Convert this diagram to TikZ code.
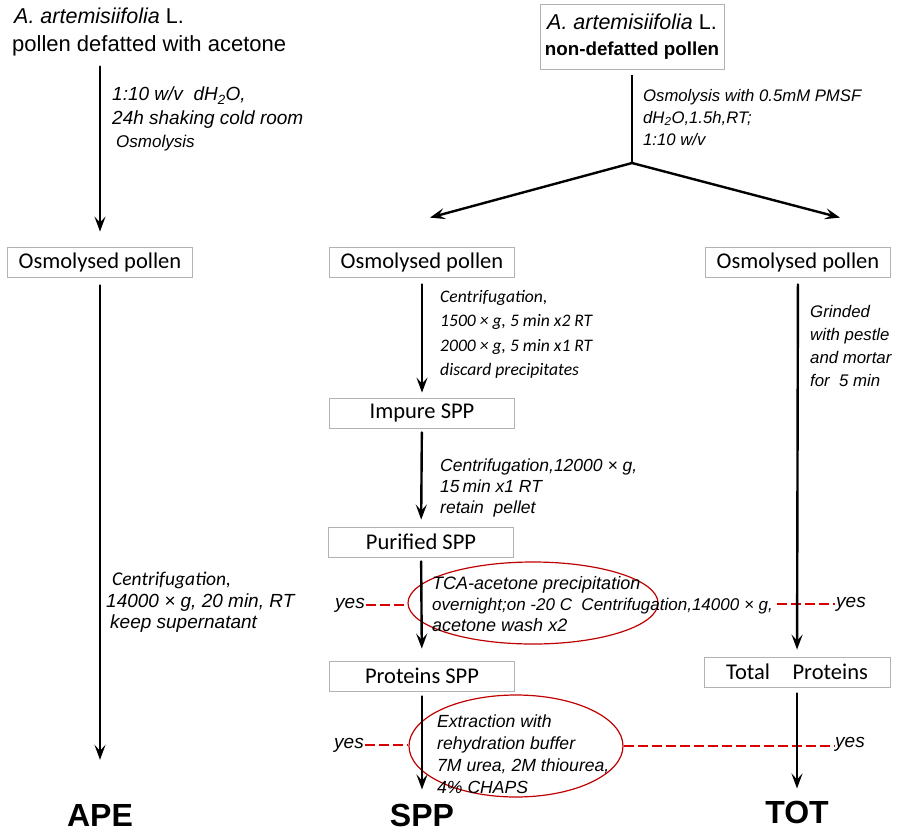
\documentclass[tikz,border=0pt]{standalone}
\usepackage{fontspec}
\setmainfont{Liberation Sans}
\newfontfamily\calib{Carlito}
\usetikzlibrary{arrows.meta,shapes.geometric}

\begin{document}
\begin{tikzpicture}[x=1pt, y=-1pt,
  box/.style={draw=gray!60, line width=0.8pt, minimum width=185pt, minimum height=30pt, inner sep=2pt, font=\calib\fontsize{22.5}{24}\selectfont},
  note/.style={anchor=north west, align=left, inner sep=0pt, font=\itshape\fontsize{17}{23}\selectfont},
  cnote/.style={note, font=\calib\itshape\fontsize{17.6}{24.5}\selectfont},
  flow/.style={line width=2.4pt, line cap=round, -{Stealth[length=15pt, width=11pt, inset=6pt]}},
  ring/.style={draw=red!75!black, ellipse, line width=1.2pt, inner sep=0pt},
  yesline/.style={draw=red!85!black, line width=2pt, dash pattern=on 10pt off 4pt},
  yes/.style={font=\itshape\fontsize{19}{20}\selectfont, inner sep=1pt},
  final/.style={font=\bfseries\fontsize{32}{34}\selectfont, inner sep=0pt}]

\useasboundingbox (0,0) rectangle (897,831);

% starting material
\node[anchor=north west, align=left, inner sep=0pt, font=\fontsize{22}{28}\selectfont] (src1) at (12,8) {\hspace*{2pt}{\fontsize{21.5}{26}\selectfont\textit{A. artemisiifolia} L.}\\pollen defatted with acetone};
\node[draw=gray!60, line width=0.8pt, align=center, minimum width=184pt, minimum height=65pt, inner sep=2pt, font=\fontsize{21.5}{26}\selectfont] (src2) at (632,37) {\textit{A. artemisiifolia} L.\\\bfseries\fontsize{18.8}{22}\selectfont non-defatted pollen};

% boxes
\node[box] (osm1) at (100,262) {Osmolysed pollen};
\node[box] (osm2) at (422,262) {Osmolysed pollen};
\node[box] (osm3) at (798,262) {Osmolysed pollen};
\node[box] (impure) at (422,413) {Impure SPP};
\node[box] (purified) at (421,542) {Purified SPP};
\node[box] (protspp) at (422,676) {Proteins SPP};
\node[box, minimum width=186pt] (totprot) at (797,672) {Total\quad Proteins};

\node[final] (ape) at (100,815) {APE};
\node[final] (spp) at (422,815) {SPP};
\node[final] (tot) at (797,812) {TOT};

% step notes
\node[note, font=\itshape\fontsize{19}{23.5}\selectfont] (n1) at (112,87) {1:10 w/v\ \ dH\textsubscript{2}O,\\24h shaking cold room\\\hspace*{4pt}{\fontsize{17}{18}\selectfont Osmolysis}};
\node[note, font=\itshape\fontsize{16.7}{22}\selectfont] (n2) at (643,89) {Osmolysis with 0.5mM PMSF\\dH\textsubscript{2}O,1.5h,RT;\\1:10 w/v};
\node[cnote] (n3) at (440,290) {Centrifugation,\\1500 × g, 5 min x2 RT\\2000 × g, 5 min x1 RT\\discard precipitates};
\node[note, font=\itshape\fontsize{17.5}{21}\selectfont] (n4) at (440,459) {Centrifugation,12000 × g,\\15\,min x1 RT\\retain\ \ pellet};
\node[note, font=\itshape\fontsize{16.8}{23}\selectfont] (n5) at (810,305) {Grinded\\with pestle\\and mortar\\for\ \ 5 min};
\node[note, font=\itshape\fontsize{19}{21.5}\selectfont] (n6) at (106,572) {\hspace*{6pt}{\calib\fontsize{19.5}{20}\selectfont Centrifugation,}\\14000 × g, 20 min, RT\\\hspace*{4pt}keep supernatant};

% optional steps
\node[ring, minimum width=250pt, minimum height=82pt] (ring1) at (533,603) {};
\node[ring, minimum width=214pt, minimum height=102pt] (ring2) at (516,746) {};
\node[note, font=\itshape\fontsize{18}{21}\selectfont] (tca) at (432,576) {TCA-acetone precipitation\\{\fontsize{17}{21}\selectfont overnight;on -20 C\ \ Centrifugation,14000 × g,}\\acetone wash x2};
\node[note, font=\itshape\fontsize{17.6}{22}\selectfont] (ext) at (437,715) {Extraction with\\rehydration buffer\\7M urea, 2M thiourea,\\4\% CHAPS};
\node[yes] (yes1) at (350,605) {yes};
\node[yes] (yes2) at (851,604) {yes};
\node[yes] (yes3) at (349,745) {yes};
\node[yes] (yes4) at (850,744) {yes};

\draw[yesline] (yes1.east) -- (yes1.east -| ring1.west);
\draw[yesline] ([xshift=4pt]yes2.west -| tca.east) -- (yes2.west);
\draw[yesline] (yes3.east) -- (yes3.east -| ring2.west);
\draw[yesline] (ring2.east) -- (ring2.east -| yes4.west);

% connectors
\coordinate (split) at (632,163);
\draw[line width=2.4pt, shorten <=5pt] (src2) -- (split);
\draw[flow] (split) -- ([xshift=8pt, yshift=29pt]osm2.north);
\draw[flow] (split) -- ([xshift=42pt, yshift=29pt]osm3.north);
\draw[flow, shorten <=10pt, shorten >=15pt] (osm1.north |- src1.south) -- (osm1);
\draw[flow, shorten <=8pt, shorten >=44pt] (osm1) -- (ape);
\draw[flow, shorten <=7pt, shorten >=5pt] (osm2) -- (impure);
\draw[flow, shorten <=4pt, shorten >=7pt] (impure) -- (purified);
\draw[flow, shorten <=4pt, shorten >=12pt] (purified) -- (protspp);
\draw[flow, shorten <=5pt, shorten >=14pt] (protspp) -- (spp);
\draw[flow, shorten <=7pt, shorten >=7pt] (osm3) -- (totprot);
\draw[flow, shorten <=6pt, shorten >=12pt] (totprot) -- (tot);
\end{tikzpicture}
\end{document}
